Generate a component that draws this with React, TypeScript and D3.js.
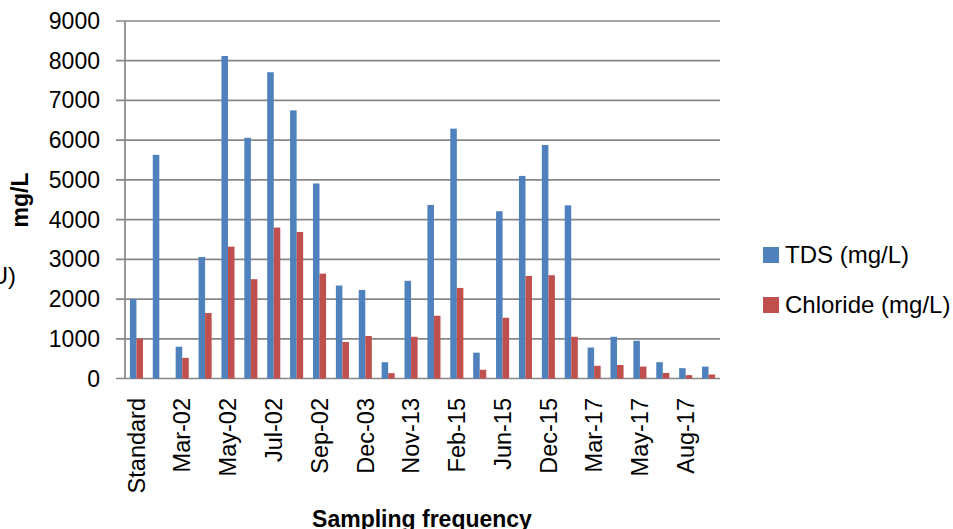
import React from "react";
import * as d3 from "d3";

// sampling dates (only every other label is drawn, as in the source chart)
const categories = [
  "Standard", "Feb-02", "Mar-02", "Apr-02", "May-02", "Jun-02", "Jul-02", "Aug-02",
  "Sep-02", "Oct-02", "Dec-03", "Jan-04", "Nov-13", "Jan-15", "Feb-15", "Apr-15",
  "Jun-15", "Sep-15", "Dec-15", "Jan-17", "Mar-17", "Apr-17", "May-17", "Jun-17",
  "Aug-17", "Sep-17",
];

const tdsValues = [
  2000, 5630, 800, 3060, 8120, 6060, 7710, 6750, 4910, 2340, 2230, 410, 2460,
  4370, 6290, 650, 4210, 5100, 5880, 4360, 780, 1050, 950, 410, 260, 300,
];

const chlorideValues = [
  1000, 0, 520, 1650, 3320, 2500, 3800, 3690, 2640, 920, 1070, 135, 1050,
  1580, 2280, 220, 1530, 2580, 2600, 1050, 320, 340, 300, 140, 85, 100,
];

const seriesNames = ["TDS (mg/L)", "Chloride (mg/L)"];
const seriesColors = ["#4F81BD", "#C0504D"];
const yTicks = [0, 1000, 2000, 3000, 4000, 5000, 6000, 7000, 8000, 9000];

const W = 953;
const H = 529;
const plot = { left: 125, right: 720, top: 21, bottom: 378.5 };
const font = "'Liberation Sans', Arial, sans-serif";

const App = () => {
  // Excel-style gap width of 150% of a bar
  const x = d3
    .scaleBand<string>()
    .domain(categories)
    .range([plot.left, plot.right])
    .paddingInner(1.5 / 3.5)
    .paddingOuter(0.75 / 3.5);

  const xSub = d3
    .scaleBand<string>()
    .domain(seriesNames)
    .range([0, x.bandwidth()]);

  const y = d3.scaleLinear().domain([0, 9000]).range([plot.bottom, plot.top]);

  const series = [tdsValues, chlorideValues];

  return (
    <svg
      width={W}
      height={H}
      style={{ position: "fixed", left: 0, top: 0, background: "#fff" }}
      fontFamily={font}
    >
      {/* gridlines */}
      {yTicks.map((t) => (
        <line
          key={t}
          x1={plot.left - 9}
          x2={plot.right}
          y1={y(t)}
          y2={y(t)}
          stroke="#878787"
          strokeWidth={1.7}
        />
      ))}
      <line
        x1={plot.left}
        x2={plot.left}
        y1={plot.top}
        y2={plot.bottom}
        stroke="#878787"
        strokeWidth={1.7}
      />

      {/* bars */}
      {series.map((vals, si) =>
        vals.map((v, i) => (
          <rect
            key={`${si}-${i}`}
            x={x(categories[i])! + xSub(seriesNames[si])!}
            y={y(v)}
            width={xSub.bandwidth()}
            height={plot.bottom - y(v)}
            fill={seriesColors[si]}
          />
        ))
      )}

      {/* y tick labels */}
      {yTicks.map((t) => (
        <text
          key={t}
          x={100}
          y={y(t)}
          dy="0.35em"
          textAnchor="end"
          fontSize={23}
          fill="#000"
        >
          {t}
        </text>
      ))}

      {/* x labels */}
      {categories.map((c, i) =>
        i % 2 === 0 ? (
          <text
            key={c}
            transform={`translate(${x(c)! + x.bandwidth() / 2},398) rotate(-90)`}
            dy="0.35em"
            textAnchor="end"
            fontSize={23.5}
            fill="#000"
          >
            {c}
          </text>
        ) : null
      )}

      {/* axis titles */}
      <text
        transform="translate(28,200) rotate(-90)"
        textAnchor="middle"
        fontSize={23}
        fontWeight="bold"
      >
        mg/L
      </text>
      <text x={422} y={527} textAnchor="middle" fontSize={23} fontWeight="bold">
        Sampling frequency
      </text>
      <text x={16} y={284} textAnchor="end" fontSize={24}>
        (NTU)
      </text>

      {/* legend */}
      {seriesNames.map((s, i) => (
        <g key={s} transform={`translate(763,${247 + i * 50})`}>
          <rect width={16} height={16} fill={seriesColors[i]} />
          <text x={22} y={16} fontSize={24}>
            {s}
          </text>
        </g>
      ))}
    </svg>
  );
};

export default App;
